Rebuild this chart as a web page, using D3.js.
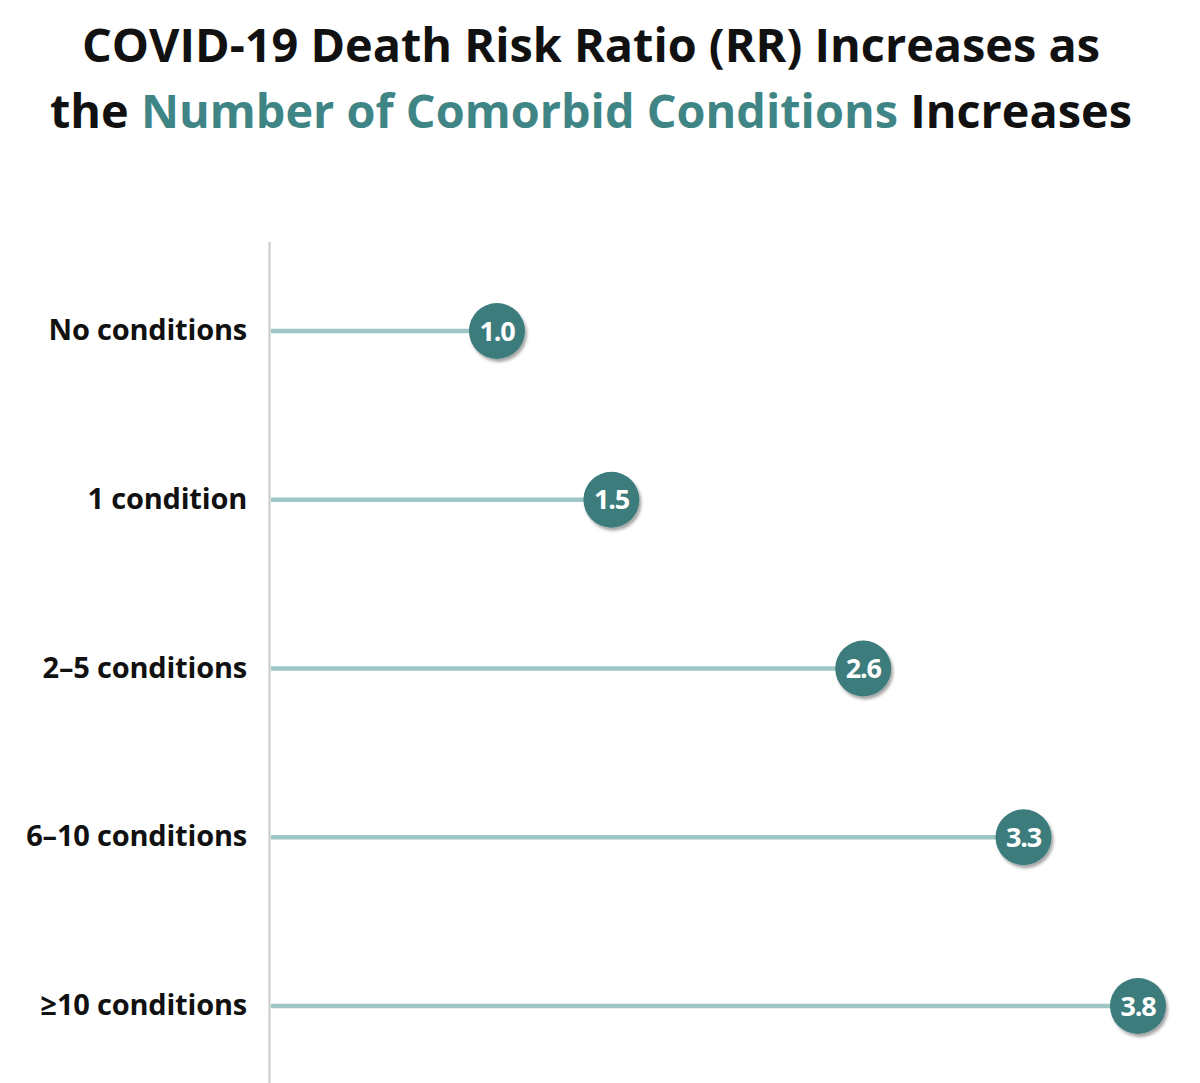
<!DOCTYPE html>
<html>
<head>
<meta charset="utf-8">
<script src="https://cdn.jsdelivr.net/npm/d3@7"></script>
<style>
html,body{margin:0;padding:0;background:#fff;}
svg{display:block;}
</style>
</head>
<body>
<svg id="chart" width="1200" height="1083"></svg>
<script>
const categories = ["No conditions", "1 condition", "2\u20135 conditions", "6\u201310 conditions", "\u226510 conditions"];
const values = [1.0, 1.5, 2.6, 3.3, 3.8];
const valueLabels = ["1.0", "1.5", "2.6", "3.3", "3.8"];

const svg = d3.select("#chart");
const W = 1200, H = 1083;
const font = "'Open Sans', 'DejaVu Sans', sans-serif";

const defs = svg.append("defs");
const f = defs.append("filter").attr("id","shadow").attr("x","-30%").attr("y","-30%").attr("width","170%").attr("height","170%");
f.append("feDropShadow").attr("dx",2).attr("dy",3).attr("stdDeviation",1.8).attr("flood-color","#000").attr("flood-opacity",0.35);

// Title
svg.append("text").attr("x",591).attr("y",62).attr("text-anchor","middle")
  .attr("font-family",font).attr("font-weight",700).attr("font-size",47).attr("fill","#111")
  .attr("textLength",1018).attr("lengthAdjust","spacingAndGlyphs")
  .text("COVID-19 Death Risk Ratio (RR) Increases as");
const t2 = svg.append("text").attr("x",591).attr("y",128).attr("text-anchor","middle")
  .attr("font-family",font).attr("font-weight",700).attr("font-size",47).attr("fill","#111")
  .attr("textLength",1082).attr("lengthAdjust","spacingAndGlyphs");
t2.append("tspan").text("the ");
t2.append("tspan").attr("fill","#3f8585").text("Number of Comorbid Conditions");
t2.append("tspan").text(" Increases");

const x = d3.scaleLinear().domain([0, 3.8]).range([268, 1138]);
const y = d3.scalePoint().domain(categories).range([331, 1006]);

// axis line
svg.append("line").attr("x1",269.5).attr("x2",269.5).attr("y1",242).attr("y2",H)
  .attr("stroke","#c9c9c9").attr("stroke-width",2);

const rows = svg.selectAll("g.row").data(categories).enter().append("g").attr("class","row");

rows.append("line")
  .attr("x1",271).attr("x2",(d,i)=>x(values[i]))
  .attr("y1",d=>y(d)).attr("y2",d=>y(d))
  .attr("stroke","#9dc6c4").attr("stroke-width",4.5);

rows.append("text")
  .attr("x",247).attr("y",d=>y(d)+9).attr("text-anchor","end")
  .attr("font-family",font).attr("font-weight",700).attr("font-size",29).attr("fill","#111")
  .attr("letter-spacing",-0.2)
  .text(d=>d);

rows.append("circle")
  .attr("cx",(d,i)=>x(values[i])).attr("cy",d=>y(d)).attr("r",28)
  .attr("fill","#3c7b7c").attr("filter","url(#shadow)");

rows.append("text")
  .attr("x",(d,i)=>x(values[i])).attr("y",d=>y(d)+9.5).attr("text-anchor","middle")
  .attr("font-family",font).attr("font-weight",700).attr("font-size",27).attr("fill","#fff")
  .attr("letter-spacing",-1.2)
  .text((d,i)=>valueLabels[i]);
</script>
</body>
</html>
